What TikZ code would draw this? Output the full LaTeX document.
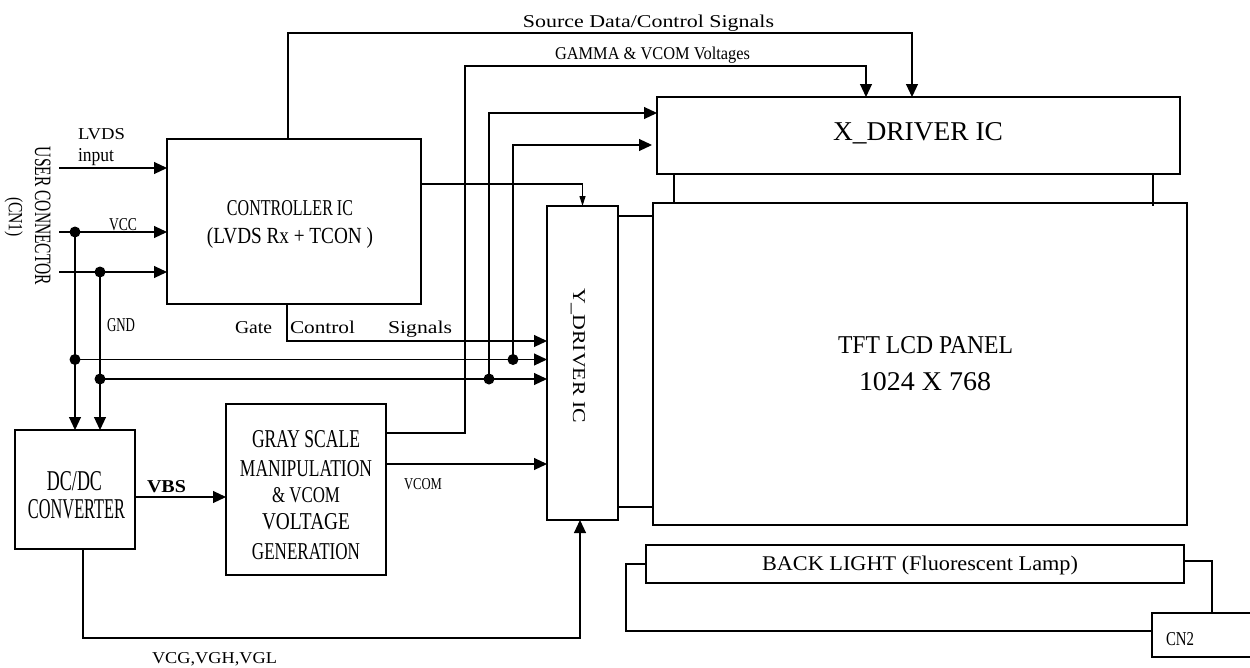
\documentclass[tikz,border=0pt]{standalone}
\usepackage{fontspec}
\setmainfont{Liberation Serif}
\usepackage{graphicx}
\usetikzlibrary{arrows.meta,calc}
\newcommand{\rtxt}[3]{\resizebox{#1pt}{#2pt}{#3}}
\begin{document}
\begin{tikzpicture}[x=1pt,y=-1pt,
  box/.style={draw, line width=1.1pt, inner sep=0pt, outer sep=0pt},
  wire/.style={line width=1.1pt},
  arr/.style={wire, -{Triangle[length=13pt,width=12pt]}},
  sarr/.style={wire, -{Triangle[length=10pt,width=6pt]}},
  txt/.style={inner sep=0pt, outer sep=0pt},
  jdot/.style={circle, fill, inner sep=0pt, minimum size=11pt}]
\useasboundingbox (0,0) rectangle (1250,667);
\clip (0,0) rectangle (1250,667);

% boxes
\node[box, minimum width=254pt, minimum height=165pt] (ctrl) at (294,221.5) {};
\node[box, minimum width=523pt, minimum height=77pt] (xdrv) at (918.5,135.5) {};
\node[box, minimum width=534pt, minimum height=322pt] (panel) at (920,364) {};
\node[box, minimum width=71pt, minimum height=314pt] (ydrv) at (582.5,363) {};
\node[box, minimum width=120pt, minimum height=119pt] (dcdc) at (75,489.5) {};
\node[box, minimum width=160pt, minimum height=171pt] (gray) at (306,489.5) {};
\node[box, minimum width=538pt, minimum height=38pt] (back) at (915,564) {};
\node[box, minimum width=110pt, minimum height=44pt] (cn2) at (1207,635) {};

% junction coordinates
\coordinate (lv) at (59,168);
\coordinate (vc) at (59,232);
\coordinate (gn) at (59,272);
\coordinate (j1) at (75,232);
\coordinate (j2) at (100,272);
\coordinate (j3) at (75,359.5);
\coordinate (j4) at (100,379);
\coordinate (j5) at (513,359.5);
\coordinate (j6) at (489,379);
\coordinate (x1) at ($(xdrv.north west)+(0,16)$);
\coordinate (x2) at ($(xdrv.north west)+(-5,48)$);
\coordinate (g0) at (287,304);
\coordinate (gy) at (0,341);
\coordinate (c1) at (421,184);
\coordinate (s0) at (288,139);
\coordinate (sb) at (600,33);
\coordinate (s1) at (912,97);
\coordinate (g1) at (386,433);
\coordinate (gb) at (465,66);
\coordinate (g2) at (866,97);
\coordinate (v1) at (386,464);
\coordinate (b1) at (135,497);
\coordinate (d1) at (83,549);
\coordinate (db) at (300,638);
\coordinate (y1) at (580,520);
\coordinate (xp1) at (674,174);
\coordinate (xp2) at (1153,174);
\coordinate (yp1) at (618,216);
\coordinate (yp2) at (618,507);
\coordinate (bl1) at (646,564);
\coordinate (blb) at (626,631);
\coordinate (br1) at (1184,561);
\coordinate (cn2t) at (1212,613);

% connectors
\draw[arr] (lv) -- (lv -| ctrl.west);
\draw[arr] (vc) -- (vc -| ctrl.west);
\draw[arr] (gn) -- (gn -| ctrl.west);
\draw[arr] (j1) -- (j1 |- dcdc.north);
\draw[arr] (j2) -- (j2 |- dcdc.north);
\draw[arr] (j3) -- (j3 -| ydrv.west);
\draw[arr] (j4) -- (j4 -| ydrv.west);
\draw[arr] (j6) |- (x1);
\draw[arr] (j5) |- (x2);
\draw[arr] (g0) |- (ydrv.west |- gy);
\draw[sarr] (c1) -| (ydrv.north);
\draw[arr] (s0) |- (sb) -| (s1);
\draw[arr] (g1) -| (gb) -| (g2);
\draw[arr] (v1) -- (v1 -| ydrv.west);
\draw[arr] (b1) -- (b1 -| gray.west);
\draw[arr] (d1) |- (db) -| (y1);
\draw[wire] (xp1) -- (xp1 |- panel.north);
\draw[wire] (xp2) -- ++(0,32);
\draw[wire] (yp1) -- (yp1 -| panel.west);
\draw[wire] (yp2) -- (yp2 -| panel.west);
\draw[wire] (bl1) -| (blb) -- (blb -| cn2.west);
\draw[wire] (br1) -| (cn2t);

% junction dots
\foreach \j in {j1,j2,j3,j4,j5,j6} \node[jdot] at (\j) {};

% texts
\node[txt, anchor=base] (tsrc) at (648.5,27) {\rtxt{251}{12.5}{Source Data/Control Signals}};
\node[txt, anchor=base] (tgam) at (652.5,59) {\rtxt{195}{12.5}{GAMMA \& VCOM Voltages}};
\node[txt, anchor=base west] (tgate) at (235,333) {\rtxt{37}{12}{Gate}\hspace{18pt}\rtxt{65}{12.5}{Control}\hspace{33pt}\rtxt{64}{12.5}{Signals}};
\node[txt, anchor=base west] (tlvds) at (78,139) {\rtxt{47}{11}{LVDS}};
\node[txt, anchor=base west] (tinput) at (78,161) {\rtxt{36}{13}{input}};
\node[txt, anchor=base west] (tvcc) at (109,230) {\rtxt{28}{12}{VCC}};
\node[txt, anchor=base west] (tgnd) at (107,331) {\rtxt{28}{13}{GND}};
\node[txt, anchor=base, rotate=-90] (tuser) at (35,216) {\rtxt{138}{15.5}{USER CONNECTOR}};
\node[txt, anchor=base, rotate=-90] (tcn1) at (9,217) {\rtxt{40}{14}{(CN1)}};
\node[txt, anchor=base] (tctrl1) at (290,215) {\rtxt{126}{15}{CONTROLLER IC}};
\node[txt, anchor=base] (tctrl2) at (290,243) {\rtxt{166}{16}{(LVDS Rx + TCON )}};
\node[txt, anchor=base] (txdrv) at (918,140) {\rtxt{170}{18}{X\_DRIVER IC}};
\node[txt, anchor=base] (tpan1) at (925.5,353) {\rtxt{175}{17}{TFT LCD PANEL}};
\node[txt, anchor=base] (tpan2) at (925,390) {\rtxt{132}{18}{1024 X 768}};
\node[txt, anchor=base, rotate=-90] (tydrv) at (573,355.5) {\rtxt{135}{12}{Y\_DRIVER IC}};
\node[txt, anchor=base] (tdc1) at (74.5,490) {\rtxt{55}{19}{DC/DC}};
\node[txt, anchor=base] (tdc2) at (76.5,518) {\rtxt{97}{19}{CONVERTER}};
\node[txt, anchor=base] (tgr1) at (306,447) {\rtxt{108}{17}{GRAY SCALE}};
\node[txt, anchor=base] (tgr2) at (306,476) {\rtxt{132}{16}{MANIPULATION}};
\node[txt, anchor=base] (tgr3) at (306,502) {\rtxt{68}{15}{\& VCOM}};
\node[txt, anchor=base] (tgr4) at (306,529) {\rtxt{88}{16}{VOLTAGE}};
\node[txt, anchor=base] (tgr5) at (306,559) {\rtxt{108}{16}{GENERATION}};
\node[txt, anchor=base] (tvbs) at (166.5,492) {\rtxt{39}{12}{\textbf{VBS}}};
\node[txt, anchor=base] (tvcom) at (423,489) {\rtxt{38}{11}{VCOM}};
\node[txt, anchor=base] (tvcg) at (214.5,663) {\rtxt{125}{11}{VCG,VGH,VGL}};
\node[txt, anchor=base] (tcn2) at (1180,645) {\rtxt{28}{13}{CN2}};
\node[txt, anchor=base] (tback) at (920,570) {\rtxt{316}{14.5}{BACK LIGHT (Fluorescent Lamp)}};
\end{tikzpicture}
\end{document}
